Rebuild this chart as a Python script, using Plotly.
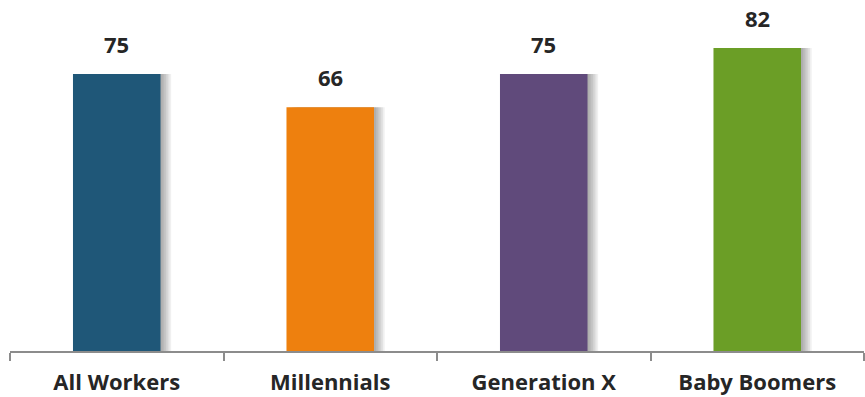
import plotly.graph_objects as go

categories = ["All Workers", "Millennials", "Generation X", "Baby Boomers"]
values = [75, 66, 75, 82]
colors = ["#1f5778", "#ee800e", "#604a7b", "#6b9e26"]

BAR_W = 0.41
fig = go.Figure()

# soft shadow layers (drawn from the same data)
shifts = [0.010, 0.018, 0.026, 0.034, 0.042, 0.050]
for s in shifts:
    fig.add_trace(go.Bar(
        x=categories, y=values, width=BAR_W, offset=-BAR_W / 2 + s,
        marker=dict(color="rgba(0,0,0,0.06)", line=dict(width=0)),
        hoverinfo="skip", showlegend=False,
    ))

fig.add_trace(go.Bar(
    x=categories, y=values, width=BAR_W, offset=-BAR_W / 2,
    marker=dict(color=colors, line=dict(width=0)),
    showlegend=False,
))

for c, v in zip(categories, values):
    fig.add_annotation(
        x=c, y=v, text=str(v), showarrow=False, yanchor="bottom", yshift=13,
        font=dict(family="Open Sans", size=22, color="#262626", weight="bold"),
    )

fig.update_layout(
    width=865, height=397,
    margin=dict(l=10, r=1, t=0, b=46, autoexpand=False),
    barmode="overlay",
    plot_bgcolor="white", paper_bgcolor="white",
)
fig.update_xaxes(
    showline=True, linecolor="#8c8c8c", linewidth=2,
    ticks="outside", tickson="boundaries", ticklen=8, tickcolor="#8c8c8c", tickwidth=1.5,
    tickfont=dict(family="Open Sans", size=22, color="#262626", weight="bold"),
    ticklabelstandoff=11,
    showgrid=False, automargin=False,
)
fig.update_yaxes(range=[0, 95], visible=False, showgrid=False, automargin=False)

fig.write_html("out.html", config={"displayModeBar": False},
               post_script="document.body.style.margin='0';")
